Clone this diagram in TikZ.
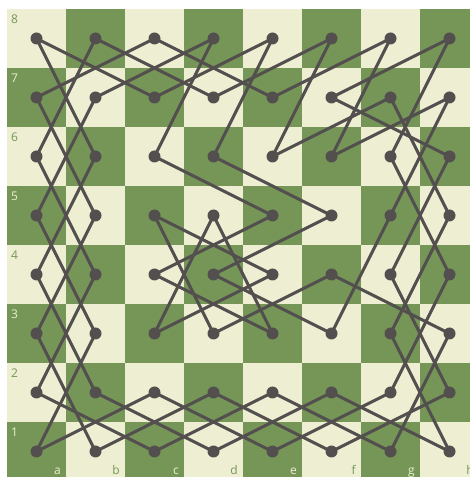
\documentclass[tikz,border=0pt]{standalone}
\usepackage{fontspec}
\setmainfont{Open Sans}
\definecolor{lightsq}{RGB}{238,238,211}
\definecolor{darksq}{RGB}{117,150,86}
\definecolor{ink}{RGB}{83,79,79}
\begin{document}
\begin{tikzpicture}[x=1pt,y=1pt,
  tour/.style={draw=ink,line width=3pt},
  dot/.style={circle,fill=ink,inner sep=0pt,minimum size=12pt},
  ranklbl/.style={anchor=north west,inner sep=0pt,font=\fontsize{12}{12}\selectfont},
  filelbl/.style={anchor=base east,inner sep=0pt,font=\fontsize{12}{12}\selectfont}]
\useasboundingbox (0,0) rectangle (470,477);
\fill[white] (0,0) rectangle (470,477);
\begin{scope}
\clip (0,0) rectangle (470,477);
\foreach \i in {1,...,8}{
  \foreach \j in {1,...,8}{
    \pgfmathtruncatemacro\parity{mod(\i+\j,2)}
    \ifnum\parity=0 \def\sqcol{darksq}\else \def\sqcol{lightsq}\fi
    \fill[\sqcol] ({7+59*(\i-1)},{468-59*(9-\j)}) rectangle ++(59,59);
  }
}
% coordinates of square centres
\foreach \f [count=\i] in {a,b,c,d,e,f,g,h}{
  \foreach \j in {1,...,8}{
    \coordinate (\f\j) at ({7+59*(\i-1)+29.5},{468-59*(8-\j)-29.5});
  }
}
% rank labels
\foreach \j in {1,...,8}{
  \pgfmathtruncatemacro\parity{mod(1+\j,2)}
  \ifnum\parity=0 \def\lblcol{lightsq}\else \def\lblcol{darksq}\fi
  \node[ranklbl,text=\lblcol] (rank\j) at (11,{468-59*(8-\j)-6}) {\j};
}
% file labels
\foreach \f [count=\i] in {a,b,c,d,e,f,g,h}{
  \pgfmathtruncatemacro\parity{mod(\i+1,2)}
  \ifnum\parity=0 \def\lblcol{lightsq}\else \def\lblcol{darksq}\fi
  \node[filelbl,text=\lblcol] (file\f) at ({7+59*\i-5},2) {\f};
}
% tour
\foreach \p/\q in {a8/c7,a8/b6,b8/a6,b8/d7,c8/a7,c8/e7,d8/b7,d8/c6,e8/c7,e8/d6,f8/d7,f8/e6,g8/e7,g8/f6,h8/f7,h8/g6,
  a7/b5,b7/a5,f7/h6,g7/e6,g7/h5,h7/f6,h7/g5,
  a6/b4,b6/a4,c6/e5,d6/f5,g6/h4,h6/g4,
  a5/b3,b5/a3,c5/d3,c5/e4,d5/c3,d5/e3,e5/c4,f5/d4,g5/f3,h5/g3,
  a4/b2,b4/a2,c4/e3,d4/f3,e4/c3,f4/h3,f4/d3,g4/h2,h4/g2,
  a3/b1,b3/a1,g3/h1,h3/g1,
  a2/c1,b2/d1,c2/a1,c2/e1,d2/b1,d2/f1,e2/c1,e2/g1,f2/d1,f2/h1,g2/e1,h2/f1}{
  \draw[tour] (\p) -- (\q);
}
% dots
\foreach \f in {a,b,c,d,e,f,g,h}{
  \foreach \j in {1,...,8}{
    \node[dot] (dot\f\j) at (\f\j) {};
  }
}
\end{scope}
\end{tikzpicture}
\end{document}
